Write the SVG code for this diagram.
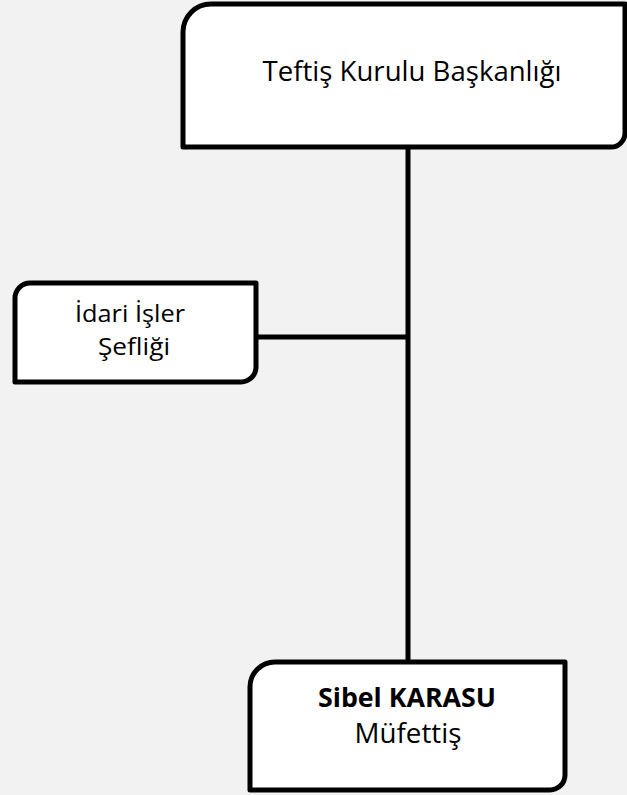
<svg xmlns="http://www.w3.org/2000/svg" width="627" height="795" viewBox="0 0 627 795">
<style>
.box{fill:#ffffff;stroke:#000000;stroke-width:5;stroke-linejoin:round}
.conn{stroke:#000000;stroke-width:5;fill:none}
.t{font-family:"Open Sans","Liberation Sans",Arial,sans-serif;font-size:27px;fill:#000000;text-anchor:middle}
.s{font-size:24px}
.b{font-weight:bold}
</style>
<rect x="0" y="0" width="627" height="795" fill="#f2f2f2"/>
<g id="connectors">
<line class="conn" x1="408" y1="147" x2="408" y2="662"/>
<line class="conn" x1="256" y1="337" x2="408" y2="337"/>
</g>
<g id="node-baskanlik">
<path class="box" d="M183,147 V32 A28,28 0 0 1 211,4 H625 V133 A14,14 0 0 1 611,147 Z"/>
<text class="t" x="412" y="81" textLength="299" lengthAdjust="spacingAndGlyphs">Teftiş Kurulu Başkanlığı</text>
</g>
<g id="node-idari">
<path class="box" d="M15,382 V298 A15,15 0 0 1 30,283 H256 V367 A15,15 0 0 1 241,382 Z"/>
<text class="t s" x="130" y="322" textLength="110" lengthAdjust="spacingAndGlyphs">İdari İşler</text>
<text class="t s" x="134" y="355" textLength="72" lengthAdjust="spacingAndGlyphs">Şefliği</text>
</g>
<g id="node-mufettis">
<path class="box" d="M250,790 V687 A25,25 0 0 1 275,662 H565 V775 A15,15 0 0 1 550,790 Z"/>
<text class="t b" x="407" y="707" textLength="178" lengthAdjust="spacingAndGlyphs">Sibel KARASU</text>
<text class="t" x="408" y="743" textLength="107" lengthAdjust="spacingAndGlyphs">Müfettiş</text>
</g>
</svg>
